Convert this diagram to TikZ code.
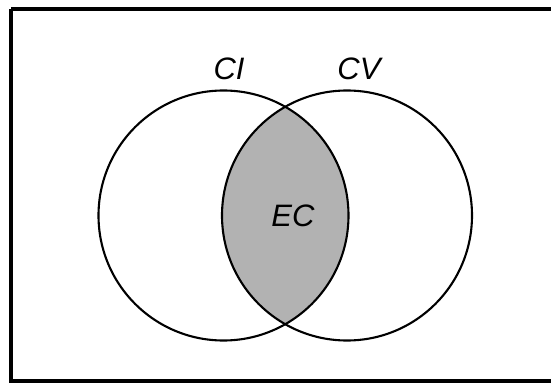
\documentclass[tikz,border=0pt]{standalone}
\usepackage{fontspec}
\setmainfont{Liberation Sans}
\begin{document}
\begin{tikzpicture}[x=1pt,y=1pt,
  setcircle/.style={circle,draw=black,line width=2.1pt,minimum size=250pt,inner sep=0pt},
  setlabel/.style={font=\fontsize{31}{33}\selectfont\itshape,inner sep=0pt}]
\useasboundingbox (0,0) rectangle (551,383);
% frame
\draw[line width=4pt] (11.3,374) -- (570,374) (11.3,374) -- (11.3,1.6) -- (570,1.6);
% lens fill
\begin{scope}
  \clip (223.5,167.5) circle (125);
  \fill[black!30] (347,167.5) circle (125);
\end{scope}
\node[setcircle] (ci) at (223.5,167.5) {};
\node[setcircle] (cv) at (347,167.5) {};
\node[setlabel] (lci) at (229,314) {CI};
\node[setlabel] (lcv) at (359,314) {CV};
\node[setlabel] (lec) at (293,167) {EC};
\end{tikzpicture}
\end{document}
